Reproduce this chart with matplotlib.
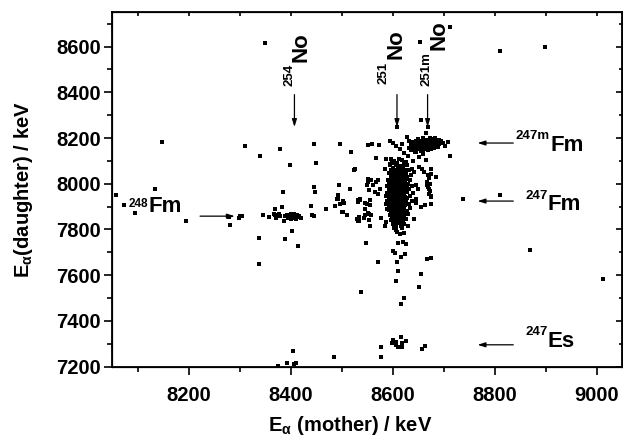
import matplotlib
matplotlib.use('Agg')
import matplotlib.pyplot as plt
from matplotlib.ticker import MultipleLocator

plt.rcParams['font.family'] = ['Liberation Sans', 'DejaVu Sans']
plt.rcParams['font.weight'] = 'bold'
plt.rcParams['mathtext.fontset'] = 'custom'
plt.rcParams['mathtext.rm'] = 'Liberation Sans:bold'
plt.rcParams['mathtext.it'] = 'Liberation Sans:bold'
plt.rcParams['mathtext.bf'] = 'Liberation Sans:bold'

# isolated correlations (mother keV, daughter keV)
single_x = [8349, 8654, 8711, 8810, 8898, 8655, 8665, 8668, 8608, 8627, 8632,
            8057, 8073, 8094, 8133, 8148, 8194,
            8280, 8279, 8300, 8305, 8298,
            8311, 8339, 8378, 8398, 8446, 8450, 8496,
            8385, 8446, 8447, 8494,
            8338, 8338, 8345, 8358, 8368, 8368, 8383, 8386, 8388, 8402, 8414,
            8440, 8442, 8445, 8469, 8486, 8491,
            8517, 8523, 8515, 8492, 8497, 8505, 8502, 8510, 8532, 8529, 8532,
            8503, 8500, 8531, 8536, 8531, 8546, 8554, 8555, 8492,
            8375, 8392, 8404, 8407, 8410, 8484,
            8810, 8869, 9011]
single_y = [8614, 8620, 8684, 8580, 8599, 8278, 8222, 8248, 8248, 8204, 8185,
            7949, 7905, 7873, 7978, 8182, 7836,
            7821, 7854, 7858, 7858, 7851,
            8165, 8123, 8153, 8083, 8175, 8092, 8173,
            7963, 7985, 7963, 7993,
            7761, 7649, 7861, 7854, 7890, 7861, 7900, 7836, 7756, 7795, 7726,
            7902, 7861, 7858, 7890, 7902, 7934,
            8139, 8061, 7978, 7931, 7909, 7917, 7876, 7861, 7919, 7846, 7835,
            7923, 7878, 7927, 7927, 7839, 7861, 7868, 7817, 7949,
            7203, 7215, 7268, 7211, 7215, 7240,
            7949, 7709, 7583]

# 254No group
no254_x = [8367, 8373, 8376, 8378, 8370, 8389, 8392, 8395, 8397, 8399, 8401,
           8403, 8405, 8407, 8409, 8412, 8414, 8416, 8420, 8394, 8400, 8410]
no254_y = [7868, 7861, 7868, 7860, 7851, 7858, 7864, 7856, 7862, 7852, 7868,
           7860, 7850, 7866, 7857, 7863, 7854, 7860, 7848, 7848, 7845, 7847]

# points scattered around the 251No blob
halo_x = [8551, 8559, 8572, 8594, 8600, 8607, 8618, 8614, 8566, 8587, 8595,
          8584, 8525, 8518,
          8551, 8558, 8550, 8554, 8561, 8565, 8571, 8574, 8536, 8546, 8555,
          8551, 8567, 8570,
          8549, 8556, 8546, 8551, 8557, 8533, 8543, 8533, 8556, 8553, 8577,
          8584, 8587,
          8709, 8712, 8685, 8674, 8675, 8652, 8658, 8661, 8637, 8642, 8646,
          8650, 8666, 8670, 8664, 8674, 8674, 8646, 8645, 8737, 8655, 8663,
          8641, 8629,
          8668, 8671, 8666, 8673, 8669, 8672, 8670, 8675,
          8652, 8660, 8645, 8630, 8622, 8640]
halo_y = [8171, 8175, 8168, 8185, 8178, 8163, 8175, 8153, 8114, 8110, 8088,
          8066, 8066, 8139,
          8022, 8015, 7993, 7971, 7993, 7963, 8015, 7978, 7931, 7917, 7927,
          8007, 8007, 7956,
          7912, 7908, 7890, 7871, 7861, 7854, 7851, 7836, 7817, 7842, 7851,
          7817, 7831,
          8182, 8123, 8029, 8066, 8044, 8072, 8066, 8051, 8066, 8051, 7993,
          7978, 7993, 7978, 8102, 7941, 7912, 7931, 7917, 7932, 7898, 7907,
          7846, 7817,
          8040, 8025, 8008, 7998, 7985, 7970, 7955, 7945,
          8117, 8130, 8140, 8120, 8135, 8100]

# dense 251No blob
blob_x = [8596, 8612,
          8603, 8618, 8625,
          8598, 8609, 8621,
          8594, 8606, 8615, 8628,
          8601, 8611, 8619,
          8597, 8608, 8614, 8624, 8632,
          8603, 8612, 8620,
          8592, 8600, 8609, 8617, 8626,
          8605, 8613, 8621, 8635,
          8596, 8603, 8610, 8618, 8628,
          8599, 8607, 8614, 8622,
          8590, 8602, 8609, 8616, 8625, 8633,
          8597, 8605, 8612, 8619,
          8593, 8601, 8608, 8615, 8623, 8630,
          8598, 8606, 8611, 8618, 8626,
          8588, 8595, 8603, 8610, 8616, 8622, 8637,
          8600, 8607, 8613, 8620, 8628,
          8592, 8598, 8605, 8611, 8617, 8624, 8632,
          8595, 8602, 8609, 8614, 8621,
          8589, 8599, 8606, 8612, 8618, 8627, 8640,
          8594, 8601, 8608, 8615, 8622,
          8586, 8597, 8604, 8610, 8616, 8624, 8634,
          8592, 8600, 8607, 8613, 8619, 8628,
          8596, 8603, 8609, 8615, 8622,
          8589, 8599, 8605, 8611, 8618, 8626, 8638,
          8594, 8601, 8608, 8614, 8621,
          8586, 8597, 8604, 8610, 8616, 8624, 8631,
          8592, 8600, 8607, 8613, 8619,
          8595, 8603, 8609, 8615, 8622, 8634,
          8589, 8598, 8605, 8611, 8618,
          8593, 8601, 8607, 8613, 8620, 8628,
          8596, 8604, 8610, 8616, 8624,
          8599, 8606, 8612, 8619, 8630,
          8594, 8602, 8609, 8615, 8622,
          8598, 8605, 8611, 8618,
          8601, 8608, 8614, 8625,
          8596, 8604, 8611, 8619,
          8603, 8609, 8616,
          8600, 8612, 8621,
          8606, 8615,
          8603, 8618]
blob_y = [8110, 8108,
          8100, 8102, 8097,
          8090, 8092, 8088,
          8080, 8082, 8078, 8081,
          8070, 8072, 8069,
          8062, 8060, 8064, 8061, 8058,
          8055, 8053, 8056,
          8047, 8049, 8045, 8048, 8046,
          8040, 8038, 8041, 8039,
          8032, 8034, 8031, 8033, 8030,
          8025, 8023, 8026, 8024,
          8018, 8016, 8019, 8017, 8020, 8015,
          8010, 8012, 8009, 8011,
          8003, 8001, 8004, 8002, 8005, 8000,
          7996, 7994, 7997, 7995, 7993,
          7989, 7987, 7990, 7988, 7991, 7986, 7989,
          7982, 7980, 7983, 7981, 7984,
          7975, 7973, 7976, 7974, 7977, 7972, 7975,
          7968, 7966, 7969, 7967, 7970,
          7960, 7962, 7959, 7961, 7958, 7963, 7960,
          7953, 7951, 7954, 7952, 7955,
          7946, 7944, 7947, 7945, 7948, 7943, 7946,
          7939, 7937, 7940, 7938, 7941, 7936,
          7932, 7930, 7933, 7931, 7934,
          7925, 7923, 7926, 7924, 7927, 7922, 7925,
          7918, 7916, 7919, 7917, 7920,
          7911, 7909, 7912, 7910, 7913, 7908, 7911,
          7904, 7902, 7905, 7903, 7906,
          7897, 7895, 7898, 7896, 7899, 7894,
          7890, 7888, 7891, 7889, 7892,
          7883, 7881, 7884, 7882, 7885, 7880,
          7876, 7874, 7877, 7875, 7878,
          7869, 7867, 7870, 7868, 7866,
          7862, 7860, 7863, 7861, 7864,
          7855, 7853, 7856, 7854,
          7848, 7846, 7849, 7847,
          7840, 7838, 7841, 7839,
          7832, 7830, 7833,
          7824, 7826, 7822,
          7815, 7817,
          7806, 7808]

# 247mFm band fed by 251mNo
band_x = [8660, 8672, 8683,
          8650, 8665, 8677, 8690,
          8645, 8657, 8668, 8680, 8694,
          8638, 8652, 8662, 8673, 8685, 8699,
          8643, 8656, 8667, 8678, 8690,
          8635, 8648, 8660, 8671, 8683, 8703,
          8641, 8653, 8664, 8676, 8688,
          8632, 8646, 8658, 8669, 8681,
          8640, 8651, 8663, 8674,
          8636, 8655, 8668,
          8644, 8660]
band_y = [8200, 8198, 8201,
          8194, 8192, 8195, 8193,
          8188, 8186, 8189, 8187, 8185,
          8182, 8180, 8183, 8181, 8184, 8179,
          8176, 8174, 8177, 8175, 8173,
          8170, 8168, 8171, 8169, 8172, 8167,
          8164, 8162, 8165, 8163, 8161,
          8158, 8156, 8159, 8157, 8155,
          8152, 8150, 8153, 8151,
          8146, 8144, 8147,
          8138, 8140]

# tail below the blob and the 247Es group
tail_x = [8608, 8614, 8607, 8621, 8548, 8611, 8619, 8626, 8601, 8604, 8624,
          8615, 8571, 8608, 8667, 8674, 8611, 8655, 8607, 8652, 8538, 8621,
          8615]
tail_y = [7788, 7781, 7798, 7784, 7741, 7741, 7745, 7738, 7706, 7697, 7694,
          7680, 7658, 7658, 7672, 7677, 7619, 7607, 7575, 7546, 7524, 7502,
          7474]
es_x = [8600, 8603, 8607, 8610, 8599, 8615, 8617, 8617, 8625, 8607, 8577,
        8577, 8658, 8663]
es_y = [7318, 7306, 7295, 7284, 7303, 7328, 7303, 7287, 7313, 7309, 7287,
        7243, 7277, 7290]

fig = plt.figure(figsize=(6.23, 4.37), dpi=100)
ax = fig.add_axes([0.1803, 0.1613, 0.8188, 0.8105])

groups = [(single_x, single_y), (no254_x, no254_y), (halo_x, halo_y),
          (blob_x, blob_y), (band_x, band_y), (tail_x, tail_y), (es_x, es_y)]
for gx, gy in groups:
    ax.plot(gx, gy, 's', color='black', markersize=2.3, markeredgewidth=0)

ax.set_xlim(8050, 9050)
ax.set_ylim(7200, 8750)
ax.xaxis.set_major_locator(MultipleLocator(200))
ax.xaxis.set_minor_locator(MultipleLocator(100))
ax.yaxis.set_major_locator(MultipleLocator(200))
ax.yaxis.set_minor_locator(MultipleLocator(100))
ax.tick_params(which='major', direction='out', length=6, width=1.2,
               labelsize=14.5, pad=2)
ax.tick_params(which='minor', direction='out', length=3.5, width=1.2)
ax.tick_params(axis='x', which='major', pad=8)
for s in ax.spines.values():
    s.set_linewidth(1.3)

# inward ticks on top and right
top = ax.twiny()
top.set_xlim(ax.get_xlim())
top.xaxis.set_major_locator(MultipleLocator(100))
top.tick_params(direction='in', length=3, width=1.2, labeltop=False)
right = ax.twinx()
right.set_ylim(ax.get_ylim())
right.yaxis.set_major_locator(MultipleLocator(200))
right.yaxis.set_minor_locator(MultipleLocator(100))
right.tick_params(which='major', direction='in', length=4, width=1.2,
                  labelright=False)
right.tick_params(which='minor', direction='in', length=2, width=1.2)

ax.set_xlabel(r'E$_{\alpha}$ (mother) / keV', fontsize=14.5, fontweight='bold')
ax.set_ylabel(r'E$_{\alpha}$(daughter) / keV', fontsize=14.5, fontweight='bold')
ax.xaxis.set_label_coords(0.466, -0.135)
ax.yaxis.set_label_coords(-0.152, 0.5)

arrow = dict(arrowstyle='-|>,head_length=0.45,head_width=0.14', color='black',
             lw=0.9, shrinkA=0, shrinkB=0)


def vlabel(x, y, sup, main, dx=-10.5, dy=-1.5):
    ax.text(x, y, main, rotation=90, rotation_mode='anchor', ha='left',
            va='baseline', fontsize=16, fontweight='bold')
    ax.annotate(sup, xy=(x, y), xytext=(dx, dy), textcoords='offset points',
                rotation=90, rotation_mode='anchor', ha='right',
                va='baseline', fontsize=9.5, fontweight='bold')


def hlabel(x, y, sup, main, dy=8.5, size=9.5):
    ax.text(x, y, main, ha='left', va='baseline', fontsize=16,
            fontweight='bold')
    ax.annotate(sup, xy=(x, y), xytext=(0, dy), textcoords='offset points',
                ha='right', va='baseline', fontsize=size, fontweight='bold')


vlabel(8431, 8533, '254', 'No')
vlabel(8616, 8544, '251', 'No')
vlabel(8701, 8585, '251m', 'No')
for xa in [8407, 8608, 8668]:
    ax.annotate('', xy=(xa, 8248), xytext=(xa, 8390), arrowprops=arrow)

hlabel(8908, 8143, '247m', 'Fm')
hlabel(8903, 7883, '247', 'Fm')
hlabel(8903, 7286, '247', 'Es')
hlabel(8120, 7875, '248', 'Fm', dy=4, size=8.5)
for ya in [8178, 7924, 7295]:
    ax.annotate('', xy=(8766, ya), xytext=(8836, ya), arrowprops=arrow)
ax.annotate('', xy=(8290, 7858), xytext=(8222, 7858), arrowprops=arrow)

fig.savefig('out.png', dpi=100)
